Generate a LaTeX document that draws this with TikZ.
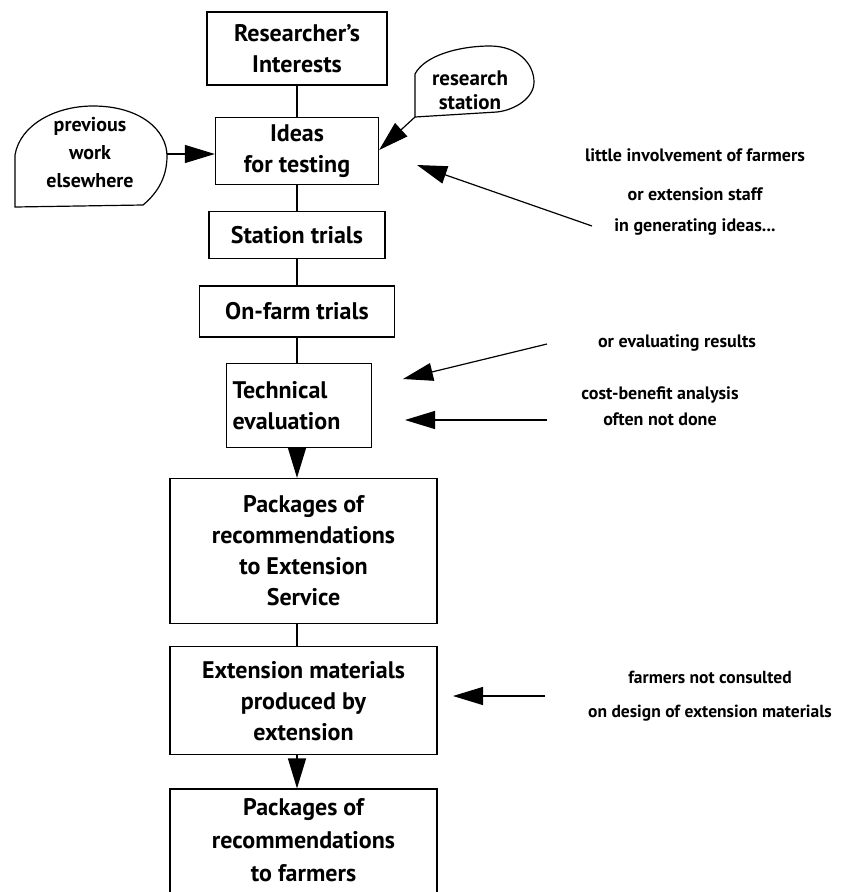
\documentclass[tikz,border=0pt]{standalone}
\usepackage{fontspec}
\setmainfont{PT Sans}
\usetikzlibrary{arrows.meta,positioning}
\tikzset{stage/.style={draw, line width=1.3pt, align=center, inner sep=3pt, font=\bfseries\fontsize{24}{31}\selectfont}}
\tikzset{bigstage/.style={stage, minimum width=267pt}}
\tikzset{blob/.style={draw, line width=1.2pt}}
\tikzset{note/.style={align=center, font=\bfseries\fontsize{18}{31}\selectfont}}
\tikzstyle{arrow} = [line width=1.2pt, -{Triangle[length=30pt,width=18pt]}]
\tikzstyle{link} = [line width=1.2pt, -]

\begin{document}
\begin{tikzpicture}[x=1pt, y=1pt]
	\useasboundingbox (0,0) rectangle (854,-892);
	% Nodes
		\node (researcher) [stage, minimum width=180pt, minimum height=73pt] at (297,-48.5) {Researcher's\\ Interests};
		\node (ideas) [stage, minimum width=163pt, minimum height=67pt, below=31pt of researcher] {Ideas\\ for testing};
		\node (station) [stage, minimum width=176pt, minimum height=47pt, below=26pt of ideas] {Station trials};
		\node (onfarm) [stage, minimum width=195pt, minimum height=51pt, below=26pt of station] {On-farm trials};
		\node (technical) [stage, align=left, text width=133pt, inner sep=6pt, minimum height=84pt, below=25pt of onfarm, xshift=2pt] {Technical\\ evaluation};

		\node (pkgext) [bigstage, minimum height=145pt, below=30pt of technical, xshift=4.5pt] {Packages of\\ recommendations\\ to Extension\\ Service};
		\node (extmat) [bigstage, minimum height=108pt, below=22pt of pkgext] {Extension materials\\ produced by\\ extension};
		\node (pkgfarm) [bigstage, minimum height=124pt, below=33pt of extmat, font=\bfseries\fontsize{24}{33}\selectfont] {Packages of\\ recommendations\\ to farmers\rule[-22pt]{0pt}{22pt}};

		% blobs
		\draw[blob] (15,-207) -- (15,-155) .. controls (20,-125) and (55,-106) .. (93,-106) .. controls (140,-106) and (167,-130) .. (167,-156) .. controls (167,-180) and (155,-195) .. (143,-205) -- cycle;
		\node (prevwork) [align=center, font=\bfseries\fontsize{20}{28}\selectfont] at (90,-153) {previous\\ work\\ elsewhere};
		\draw[blob] (415,-117) -- (415,-74) .. controls (425,-55) and (460,-46) .. (490,-46) .. controls (518,-46) and (534,-64) .. (534,-82) .. controls (534,-98) and (515,-110) .. (497,-112) -- cycle;
		\node (resstation) [align=center, font=\bfseries\fontsize{21}{24}\selectfont] at (470,-90) {research\\ station};

		% notes
		\node (involvement) [note] at (695,-192) {little involvement of farmers\\[8pt] or extension staff\\ in generating ideas...};
		\node (evaluating) [note] at (677,-343) {or evaluating results};
		\node (costbenefit) [note, font=\bfseries\fontsize{18}{26}\selectfont] at (660,-406) {cost-benefit analysis\\ often not done};
		\node (consulted) [note, font=\bfseries\fontsize{17.5}{34}\selectfont] at (710,-696) {farmers not consulted\\ on design of extension materials};

		\coordinate (prevtail) at (167,-154);
		\coordinate (stationtail) at (415,-117);
		\coordinate (involvetail) at (592,-226);
		\coordinate (involvetip) at (417,-165);
		\coordinate (evaltail) at (547,-344);
		\coordinate (evaltip) at (403,-379);
		\coordinate (costtail) at (547,-420);
		\coordinate (costtip) at (405,-420);
		\coordinate (consulttail) at (545,-696);
		\coordinate (consulttip) at (453,-696);

		% Connectors
		\begin{scope}[->]
		\draw [link] (researcher) -- (ideas);
		\draw [arrow] (prevtail) -- (prevtail -| ideas.west);
		\draw [arrow] (stationtail) -- (ideas.east |- 0,-150);
		\draw [arrow] (involvetail) -- (involvetip);

		\draw [link] (ideas) -- (station);
		\draw [link] (station) -- (onfarm);
		\draw [link] (onfarm) -- (onfarm |- technical.north);

		\draw [arrow] (evaltail) -- (evaltip);
		\draw [arrow] (costtail) -- (costtip);

		\draw [arrow] (onfarm |- technical.south) -- (onfarm |- pkgext.north);
		\draw [link] (onfarm |- pkgext.south) -- (onfarm |- extmat.north);
		\draw [arrow] (consulttail) -- (consulttip);
		\draw [arrow] (onfarm |- extmat.south) -- (onfarm |- pkgfarm.north);
	\end{scope}

\end{tikzpicture}
\end{document}
